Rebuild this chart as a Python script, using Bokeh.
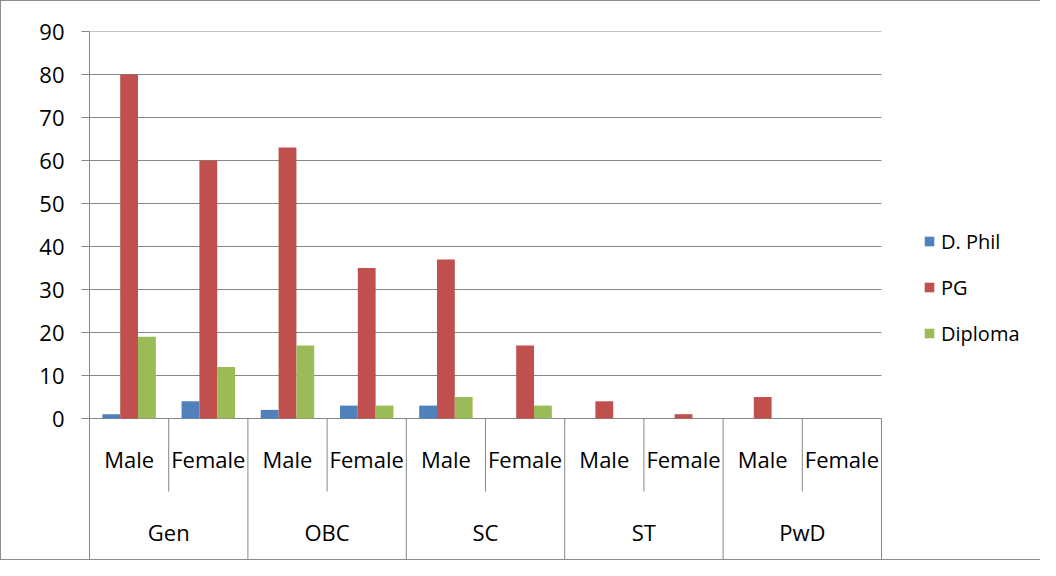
import numpy as np
from bokeh.plotting import figure
from bokeh.models import (ColumnDataSource, Range1d, FixedTicker, Legend, LegendItem)
from bokeh.core.properties import value
from bokeh.embed import file_html
from bokeh.resources import INLINE

# ---- data ----
groups = ["Gen", "OBC", "SC", "ST", "PwD"]
genders = ["Male", "Female"]
series_names = ["D. Phil", "PG", "Diploma"]
dphil = [1, 4, 2, 3, 3, 0, 0, 0, 0, 0]
pg = [80, 60, 63, 35, 37, 17, 4, 1, 5, 0]
diploma = [19, 12, 17, 3, 5, 3, 0, 0, 0, 0]
y_ticks = [0, 10, 20, 30, 40, 50, 60, 70, 80, 90]

colors = ["#4F81BD", "#C0504D", "#9BBB59"]
FONT = "Open Sans"
GRID = "#868686"

n_cat = len(groups) * len(genders)
centers = np.arange(n_cat) + 0.5
bar_w = 0.225

W, H = 1040, 560
left, top, bottom = 88, 30, 1
px_per_unit = 4.3
px_per_cat = 79.2
frame_h = H - top - bottom
frame_w = W - left
y_top = 90
y_bottom = y_top - frame_h / px_per_unit
x_end = frame_w / px_per_cat

p = figure(width=W, height=H, output_backend="svg", toolbar_location=None,
           x_range=Range1d(0, x_end), y_range=Range1d(y_bottom, y_top),
           x_axis_type=None, min_border_left=left, min_border_top=top,
           min_border_bottom=bottom, min_border_right=0)
p.outline_line_color = None
p.xgrid.visible = False
p.ygrid.visible = False

ax = p.yaxis[0]
ax.ticker = FixedTicker(ticks=y_ticks)
ax.axis_line_color = GRID
ax.major_tick_line_color = GRID
ax.major_tick_out = 8
ax.major_tick_in = 0
ax.minor_tick_line_color = None
ax.major_label_text_font = FONT
ax.major_label_text_font_size = "22px"
ax.major_label_text_color = "#000000"
ax.major_label_standoff = 17

styles_border = "1px solid #8c8c8c"
p.styles = {"border-left": styles_border, "border-top": styles_border,
            "border-bottom": styles_border}

# horizontal gridlines across the plot area only
p.segment(x0=[0] * len(y_ticks), y0=y_ticks, x1=[n_cat] * len(y_ticks), y1=y_ticks,
          line_color=GRID, line_width=1)

renderers = []
for k, (vals, col) in enumerate(zip([dphil, pg, diploma], colors)):
    src = ColumnDataSource(dict(x=centers + (k - 1) * bar_w, top=vals))
    r = p.vbar(x="x", top="top", width=bar_w, source=src, fill_color=col,
               line_color=None)
    renderers.append(r)

# category separator lines
sub_x = [2 * g + 1 for g in range(len(groups))]
grp_x = [2 * g + 2 for g in range(len(groups))]
p.segment(x0=sub_x, y0=[0] * len(sub_x), x1=sub_x, y1=[-17.0] * len(sub_x),
          line_color=GRID, line_width=1)
p.segment(x0=grp_x, y0=[0] * len(grp_x), x1=grp_x, y1=[y_bottom] * len(grp_x),
          line_color=GRID, line_width=1)

# sub-category labels
sub_labels = [genders[i % 2] for i in range(n_cat)]
p.text(x=list(centers), y=[-9.4] * n_cat, text=sub_labels,
       text_font=value(FONT), text_font_size="22px", text_color="#000000",
       text_align="center", text_baseline="middle")
# group labels
p.text(x=[2 * g + 1 for g in range(len(groups))], y=[-26.3] * len(groups),
       text=groups, text_font=value(FONT), text_font_size="22px",
       text_color="#000000", text_align="center", text_baseline="middle")

legend = Legend(items=[LegendItem(label=n, renderers=[r])
                       for n, r in zip(series_names, renderers)],
                location=(834, 212), orientation="vertical",
                label_text_font=FONT, label_text_font_size="20px",
                label_text_color="#000000", glyph_width=12, glyph_height=12,
                label_height=30, spacing=16, padding=0, margin=0,
                label_standoff=6, border_line_color=None,
                background_fill_alpha=0)
p.add_layout(legend, "center")

open("out.html", "w").write(file_html(p, INLINE))
